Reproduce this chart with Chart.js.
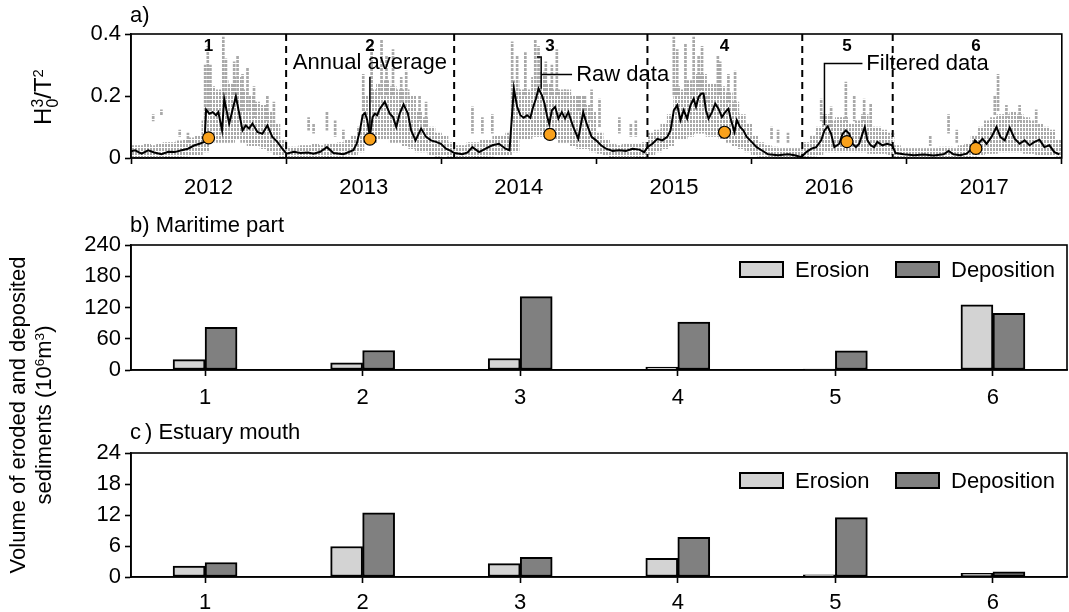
<!DOCTYPE html>
<html>
<head>
<meta charset="utf-8">
<title>Wave energy and sediment volumes</title>
<script src="https://cdn.jsdelivr.net/npm/chart.js@4.4.0/dist/chart.umd.min.js"></script>
<style>
    body { margin: 0; background: #fff; width: 1069px; height: 612px; position: relative; overflow: hidden;
           font-family: "Liberation Sans", Arial, Helvetica, sans-serif; color: #000; }
    canvas { position: absolute; left: 0; }
    .lbl { position: absolute; font-size: 22px; line-height: 1; white-space: nowrap; }
    .vt { position: absolute; transform: translate(-50%, -50%) rotate(-90deg); white-space: nowrap; line-height: 1; }
    .vt sup { font-size: 0.62em; line-height: 0; vertical-align: 0.55em; }
    .ss { display: inline-flex; flex-direction: column; font-size: 0.66em; line-height: 0.95; vertical-align: middle; }
    .sw { position: absolute; width: 41px; height: 13px; border: 2px solid #000; }
</style>
</head>
<body>
<canvas id="chartA" width="1069" height="205" style="top:0"></canvas>
<canvas id="chartB" width="1069" height="200" style="top:205px"></canvas>
<canvas id="chartC" width="1069" height="207" style="top:405px"></canvas>

<div class="lbl" style="left:130px;top:4px">a)</div>
<div class="lbl" style="left:130px;top:214px">b) Maritime part</div>
<div class="lbl" style="left:130px;top:421px">c<span style="margin-left:4px">)</span> Estuary mouth</div>
<div class="vt" style="left:45px;top:97px;font-size:24px">H<span class="ss"><span>3</span><span>0</span></span>/T<sup>2</sup></div>
<div class="vt" style="left:31px;top:415px;font-size:22px;line-height:26px;text-align:center">Volume of eroded and deposited<br>sediments (10<sup>6</sup>m<sup>3</sup>)</div>

<div class="sw" style="left:739px;top:261px;background:#d3d3d3"></div>
<div class="lbl" style="left:795px;top:259px">Erosion</div>
<div class="sw" style="left:895px;top:261px;background:#808080"></div>
<div class="lbl" style="left:951px;top:259px">Deposition</div>
<div class="sw" style="left:739px;top:472px;background:#d3d3d3"></div>
<div class="lbl" style="left:795px;top:470px">Erosion</div>
<div class="sw" style="left:895px;top:472px;background:#808080"></div>
<div class="lbl" style="left:951px;top:470px">Deposition</div>

<script>
// ---- panel a: wave energy proxy H0^3/T^2 ----
const yearTicks = [2012, 2013, 2014, 2015, 2016, 2017];
const energyTicks = [0, 0.2, 0.4];
const periodBounds = [2012.5, 2013.583, 2014.829, 2015.827, 2016.41];
const periodLabels = ['1', '2', '3', '4', '5', '6'];
const avgTime = [2012.0, 2013.04, 2014.2, 2015.326, 2016.115, 2016.946];
const avgValue = [0.065, 0.061, 0.076, 0.083, 0.053, 0.031];

// filtered series, [decimal year, value]
const filtered = [
    [2011.50,0.022],[2011.526,0.025],[2011.568,0.014],[2011.611,0.025],[2011.65,0.018],[2011.696,0.012],
    [2011.74,0.020],[2011.782,0.019],[2011.82,0.024],[2011.867,0.030],[2011.910,0.041],[2011.942,0.046],
    [2011.974,0.052],[2011.984,0.156],[2012.005,0.143],[2012.027,0.148],[2012.048,0.138],[2012.063,0.148],
    [2012.087,0.089],[2012.101,0.191],[2012.133,0.111],[2012.176,0.199],[2012.219,0.089],[2012.240,0.105],
    [2012.261,0.095],[2012.283,0.111],[2012.315,0.084],[2012.347,0.078],[2012.379,0.105],[2012.411,0.068],
    [2012.443,0.052],[2012.475,0.030],[2012.502,0.014],[2012.55,0.020],[2012.592,0.016],[2012.64,0.018],
    [2012.677,0.014],[2012.72,0.020],[2012.763,0.035],[2012.805,0.016],[2012.869,0.012],[2012.933,0.025],
    [2012.955,0.046],[2012.976,0.089],[2012.993,0.138],[2013.008,0.145],[2013.023,0.122],[2013.040,0.068],
    [2013.057,0.132],[2013.072,0.143],[2013.087,0.138],[2013.104,0.159],[2013.136,0.181],[2013.168,0.143],
    [2013.189,0.132],[2013.210,0.100],[2013.232,0.143],[2013.257,0.173],[2013.285,0.143],[2013.306,0.089],
    [2013.334,0.057],[2013.370,0.095],[2013.402,0.068],[2013.434,0.057],[2013.466,0.052],[2013.498,0.046],
    [2013.530,0.030],[2013.562,0.023],[2013.584,0.016],[2013.637,0.012],[2013.67,0.018],[2013.701,0.035],
    [2013.744,0.019],[2013.786,0.030],[2013.829,0.041],[2013.872,0.046],[2013.914,0.030],[2013.940,0.025],
    [2013.968,0.224],[2013.989,0.165],[2014.010,0.138],[2014.032,0.130],[2014.053,0.138],[2014.074,0.130],
    [2014.089,0.159],[2014.110,0.191],[2014.127,0.224],[2014.149,0.202],[2014.166,0.175],[2014.181,0.138],
    [2014.196,0.109],[2014.213,0.154],[2014.234,0.165],[2014.255,0.127],[2014.277,0.148],[2014.298,0.127],
    [2014.319,0.148],[2014.351,0.100],[2014.383,0.062],[2014.415,0.148],[2014.437,0.111],[2014.469,0.068],
    [2014.498,0.057],[2014.530,0.041],[2014.562,0.030],[2014.605,0.023],[2014.648,0.025],[2014.690,0.023],
    [2014.733,0.030],[2014.776,0.027],[2014.808,0.019],[2014.829,0.035],[2014.861,0.046],[2014.893,0.062],
    [2014.925,0.057],[2014.957,0.068],[2014.978,0.089],[2014.999,0.154],[2015.021,0.170],[2015.042,0.122],
    [2015.063,0.154],[2015.085,0.127],[2015.106,0.170],[2015.127,0.191],[2015.142,0.165],[2015.159,0.197],
    [2015.177,0.208],[2015.191,0.208],[2015.206,0.154],[2015.223,0.127],[2015.245,0.148],[2015.266,0.175],
    [2015.287,0.159],[2015.309,0.132],[2015.330,0.148],[2015.351,0.159],[2015.368,0.122],[2015.390,0.084],
    [2015.405,0.122],[2015.426,0.100],[2015.447,0.089],[2015.469,0.068],[2015.501,0.052],[2015.533,0.035],
    [2015.565,0.025],[2015.607,0.012],[2015.671,0.009],[2015.735,0.012],[2015.778,0.009],[2015.821,0.003],
    [2015.853,0.019],[2015.885,0.030],[2015.917,0.035],[2015.949,0.057],[2015.970,0.089],[2015.991,0.102],
    [2016.013,0.078],[2016.034,0.035],[2016.066,0.046],[2016.087,0.078],[2016.108,0.089],[2016.130,0.078],
    [2016.151,0.046],[2016.173,0.035],[2016.194,0.046],[2016.215,0.078],[2016.230,0.100],[2016.247,0.057],
    [2016.268,0.041],[2016.290,0.035],[2016.311,0.052],[2016.343,0.041],[2016.375,0.046],[2016.407,0.041],
    [2016.428,0.016],[2016.481,0.012],[2016.546,0.009],[2016.610,0.011],[2016.674,0.008],[2016.738,0.012],
    [2016.770,0.023],[2016.802,0.012],[2016.844,0.009],[2016.887,0.014],[2016.919,0.030],[2016.940,0.057],
    [2016.961,0.046],[2016.989,0.062],[2017.015,0.046],[2017.047,0.068],[2017.079,0.100],[2017.104,0.068],
    [2017.132,0.057],[2017.164,0.098],[2017.196,0.062],[2017.228,0.046],[2017.260,0.057],[2017.292,0.041],
    [2017.324,0.052],[2017.356,0.059],[2017.388,0.035],[2017.420,0.041],[2017.452,0.019],[2017.484,0.012]
];

// raw data spread, half-month bins starting July 2011 (one row per Jul-Jun year)
const rawLow = [
    .003,.003,.003,.003,.003,.004,.005,.005,.006,.008,.010,.020, .060,.050,.050,.050,.060,.050,.040,.040,.030,.020,.010,.005,
    .003,.003,.003,.003,.003,.003,.004,.005,.005,.006,.010,.020, .050,.050,.060,.060,.050,.050,.040,.030,.020,.020,.010,.005,
    .010,.005,.003,.003,.003,.004,.005,.006,.008,.010,.010,.020, .060,.060,.070,.070,.060,.060,.050,.050,.040,.030,.030,.020,
    .015,.008,.004,.003,.003,.003,.004,.005,.010,.020,.030,.040, .060,.060,.070,.080,.080,.070,.070,.060,.050,.040,.030,.020,
    .008,.005,.003,.003,.002,.002,.002,.002,.004,.006,.010,.020, .020,.020,.020,.020,.020,.020,.015,.015,.015,.010,.004,.003,
    .002,.002,.002,.002,.002,.002,.002,.002,.003,.004,.006,.010, .015,.015,.020,.020,.020,.020,.015,.015,.010,.010,.010,.005
];
const rawHigh = [
    .040,.040,.045,.040,.045,.050,.050,.055,.060,.065,.070,.120, .230,.220,.250,.240,.260,.220,.200,.180,.170,.150,.110,.060,
    .035,.035,.040,.040,.045,.040,.045,.045,.050,.060,.070,.100, .200,.220,.240,.250,.230,.220,.220,.200,.150,.130,.100,.080,
    .070,.050,.040,.040,.050,.050,.060,.060,.070,.070,.080,.250, .220,.220,.260,.280,.240,.220,.220,.220,.200,.200,.170,.150,
    .080,.060,.045,.040,.045,.045,.045,.050,.080,.090,.110,.140, .230,.220,.250,.270,.270,.240,.240,.230,.210,.180,.140,.110,
    .070,.050,.040,.035,.030,.030,.030,.030,.050,.070,.100,.140, .120,.130,.130,.110,.120,.140,.100,.100,.090,.080,.040,.030,
    .030,.030,.030,.030,.030,.035,.035,.030,.040,.045,.070,.100, .120,.130,.140,.140,.150,.140,.130,.120,.110,.100,.090,.060
];
// isolated raw peaks, [decimal year, from, to]
const rawSpikes = [
    [2011.643,0.12,0.14],[2011.696,0.14,0.155],[2011.814,0.07,0.09],[2011.867,0.05,0.08],
    [2011.978,0.12,0.30],[2011.995,0.15,0.36],[2012.012,0.15,0.30],[2012.095,0.18,0.39],[2012.112,0.20,0.32],
    [2012.165,0.20,0.31],[2012.187,0.20,0.33],[2012.219,0.15,0.27],[2012.251,0.15,0.29],[2012.293,0.13,0.23],
    [2012.379,0.12,0.20],[2012.421,0.10,0.18],[2012.645,0.09,0.13],[2012.677,0.08,0.11],[2012.763,0.09,0.15],
    [2012.816,0.07,0.12],[2012.869,0.06,0.09],[2012.997,0.15,0.27],[2013.051,0.18,0.37],[2013.115,0.20,0.38],
    [2013.147,0.20,0.33],[2013.189,0.20,0.35],[2013.242,0.18,0.26],[2013.274,0.18,0.28],[2013.360,0.12,0.20],
    [2013.402,0.10,0.18],[2013.701,0.08,0.165],[2013.765,0.08,0.13],[2013.829,0.08,0.14],[2013.957,0.12,0.375],
    [2013.989,0.20,0.33],[2014.042,0.20,0.34],[2014.106,0.22,0.38],[2014.127,0.22,0.36],[2014.174,0.20,0.31],
    [2014.213,0.20,0.30],[2014.245,0.20,0.35],[2014.298,0.18,0.22],[2014.383,0.15,0.20],[2014.426,0.15,0.20],
    [2014.469,0.12,0.22],[2014.520,0.10,0.19],[2014.648,0.08,0.13],[2014.722,0.07,0.11],[2014.754,0.07,0.12],
    [2014.999,0.20,0.39],[2015.021,0.20,0.35],[2015.074,0.20,0.37],[2015.127,0.20,0.39],[2015.159,0.22,0.33],
    [2015.181,0.22,0.36],[2015.223,0.18,0.20],[2015.283,0.20,0.33],[2015.298,0.20,0.31],[2015.351,0.18,0.27],
    [2015.394,0.15,0.28],[2015.629,0.06,0.10],[2015.671,0.05,0.09],[2015.735,0.05,0.08],[2015.949,0.12,0.19],
    [2016.013,0.10,0.165],[2016.108,0.12,0.245],[2016.162,0.12,0.20],[2016.226,0.12,0.19],[2016.268,0.10,0.175],
    [2016.652,0.04,0.07],[2016.770,0.08,0.14],[2016.823,0.05,0.09],[2017.068,0.14,0.20],[2017.089,0.15,0.27],
    [2017.143,0.13,0.17],[2017.228,0.12,0.17],[2017.335,0.10,0.155]
];

// ---- panels b and c: eroded / deposited volumes per period ----
const periods = [1, 2, 3, 4, 5, 6];
const maritimeErosion = [20, 14, 22, 5.5, 2, 125];
const maritimeDeposition = [82, 37.5, 141, 92, 37, 109];
const maritimeTicks = [0, 60, 120, 180, 240];
const estuaryErosion = [2.1, 5.9, 2.6, 3.6, 0.4, 0.7];
const estuaryDeposition = [2.8, 12.4, 3.8, 7.7, 11.5, 1.0];
const estuaryTicks = [0, 6, 12, 18, 24];

const FONT = '"Liberation Sans", Arial, Helvetica, sans-serif';
Chart.defaults.font.family = FONT;
Chart.defaults.font.size = 22;
Chart.defaults.color = '#000';

const AX = { color: '#000', width: 1.6 };
const TICKMARKS = { drawOnChartArea: false, tickLength: 6, tickColor: '#000', tickWidth: 1.6 };

// grey dotted streak texture so the raw record reads as dense points
function dotPattern(w, h, dw, dh) {
    const c = document.createElement('canvas');
    c.width = w; c.height = h;
    const g = c.getContext('2d');
    g.fillStyle = '#a9a9a9';
    g.fillRect(0, 0, dw, dh);
    return g.createPattern(c, 'repeat');
}
const rawFill = dotPattern(3, 4, 2, 3);
const spikeFill = dotPattern(2, 4, 2, 3);

const framePlugin = {
    id: 'frame',
    afterDraw(chart) {
        const { ctx, chartArea: a } = chart;
        ctx.save();
        ctx.strokeStyle = '#000';
        ctx.lineWidth = 1.6;
        ctx.strokeRect(a.left, a.top, a.right - a.left, a.bottom - a.top);
        ctx.restore();
    }
};

// dashed period limits, period numbers and the three callouts
const notesPlugin = {
    id: 'notes',
    afterDatasetsDraw(chart) {
        const { ctx, chartArea: a, scales: { x, y } } = chart;
        const px = t => x.getPixelForValue(t);
        const py = v => y.getPixelForValue(v);
        ctx.save();
        ctx.strokeStyle = '#000';
        ctx.lineWidth = 2;
        ctx.setLineDash([7, 5]);
        periodBounds.forEach(t => {
            ctx.beginPath();
            ctx.moveTo(px(t), a.top);
            ctx.lineTo(px(t), a.bottom);
            ctx.stroke();
        });
        ctx.setLineDash([]);

        ctx.fillStyle = '#000';
        ctx.textBaseline = 'middle';
        ctx.textAlign = 'center';
        ctx.font = 'bold 17px ' + FONT;
        periodLabels.forEach((l, i) => ctx.fillText(l, px(avgTime[i]), a.top + 12));

        ctx.lineWidth = 1.5;
        ctx.font = '22px ' + FONT;
        // annual average
        ctx.beginPath();
        ctx.moveTo(px(2013.04), py(0.262));
        ctx.lineTo(px(2013.04), py(0.080));
        ctx.stroke();
        ctx.fillText('Annual average', px(2013.04), py(0.306));
        // raw data
        ctx.beginPath();
        ctx.moveTo(px(2014.117), py(0.326));
        ctx.lineTo(px(2014.144), py(0.326));
        ctx.lineTo(px(2014.144), py(0.223));
        ctx.moveTo(px(2014.144), py(0.269));
        ctx.lineTo(px(2014.343), py(0.269));
        ctx.stroke();
        ctx.textAlign = 'left';
        ctx.fillText('Raw data', px(2014.37), py(0.269));
        // filtered data
        ctx.beginPath();
        ctx.moveTo(px(2015.97), py(0.106));
        ctx.lineTo(px(2015.97), py(0.305));
        ctx.lineTo(px(2016.215), py(0.305));
        ctx.stroke();
        ctx.fillText('Filtered data', px(2016.24), py(0.305));
        ctx.restore();
    }
};

new Chart(document.getElementById('chartA'), {
    type: 'line',
    data: {
        datasets: [
            {
                type: 'scatter',
                label: 'Annual average',
                data: avgTime.map((t, i) => ({ x: t, y: avgValue[i] })),
                pointRadius: 6,
                pointBackgroundColor: '#f9a11b',
                pointBorderColor: '#000',
                pointBorderWidth: 1.2,
                order: 1
            },
            {
                type: 'line',
                label: 'Filtered data',
                data: filtered.map(([t, v]) => ({ x: t, y: v })),
                borderColor: '#000',
                borderWidth: 2,
                pointRadius: 0,
                tension: 0,
                order: 2
            },
            {
                type: 'bar',
                label: 'Raw data',
                data: rawLow.map((lo, i) => ({ x: 2011.5 + (i + 0.5) / 24, y: [lo, rawHigh[i]] })),
                backgroundColor: rawFill,
                barThickness: 7,
                grouped: false,
                order: 3
            },
            {
                type: 'bar',
                label: 'Raw peaks',
                data: rawSpikes.map(([t, lo, hi]) => ({ x: t, y: [lo, hi] })),
                backgroundColor: spikeFill,
                barThickness: 2,
                grouped: false,
                order: 3
            }
        ]
    },
    options: {
        responsive: false,
        animation: false,
        layout: { padding: { top: 34, right: 2, left: 0, bottom: 0 } },
        plugins: { legend: { display: false }, tooltip: { enabled: false } },
        scales: {
            x: {
                type: 'linear', min: 2011.5, max: 2017.5, offset: false,
                afterBuildTicks: ax => { ax.ticks = yearTicks.map(v => ({ value: v })); },
                afterFit: ax => { ax.height = 47; },
                ticks: { callback: v => String(v), padding: 11, maxRotation: 0, autoSkip: false },
                grid: TICKMARKS, border: AX
            },
            y: {
                type: 'linear', min: 0, max: 0.4,
                afterBuildTicks: ax => { ax.ticks = energyTicks.map(v => ({ value: v })); },
                afterFit: ax => { ax.width = 131; },
                ticks: { callback: v => (v === 0 ? '0' : v.toFixed(1)), padding: 4, autoSkip: false },
                grid: TICKMARKS, border: AX
            }
        }
    },
    plugins: [framePlugin, notesPlugin]
});

function volumeChart(id, erosion, deposition, yTicks, padTop, labelPad) {
    return new Chart(document.getElementById(id), {
        type: 'bar',
        data: {
            datasets: [
                {
                    label: 'Erosion',
                    data: periods.map((p, i) => ({ x: p, y: erosion[i] })),
                    backgroundColor: '#d3d3d3', borderColor: '#000', borderWidth: 2,
                    borderSkipped: false, barThickness: 32
                },
                {
                    label: 'Deposition',
                    data: periods.map((p, i) => ({ x: p, y: deposition[i] })),
                    backgroundColor: '#808080', borderColor: '#000', borderWidth: 2,
                    borderSkipped: false, barThickness: 32
                }
            ]
        },
        options: {
            responsive: false,
            animation: false,
            layout: { padding: { top: padTop, right: 2, left: 0, bottom: 0 } },
            plugins: { legend: { display: false }, tooltip: { enabled: false } },
            scales: {
                x: {
                    type: 'linear', min: 0.53, max: 6.47, offset: false,
                    afterBuildTicks: ax => { ax.ticks = periods.map(v => ({ value: v })); },
                    afterFit: ax => { ax.height = 35; },
                    ticks: { callback: v => String(v), padding: labelPad, maxRotation: 0, autoSkip: false },
                    grid: Object.assign({ offset: false }, TICKMARKS), border: AX
                },
                y: {
                    type: 'linear', min: 0, max: yTicks[yTicks.length - 1],
                    afterBuildTicks: ax => { ax.ticks = yTicks.map(v => ({ value: v })); },
                    afterFit: ax => { ax.width = 131; },
                    ticks: { padding: 4, autoSkip: false },
                    grid: TICKMARKS, border: AX
                }
            }
        },
        plugins: [framePlugin]
    });
}

volumeChart('chartB', maritimeErosion, maritimeDeposition, maritimeTicks, 40, 9);
volumeChart('chartC', estuaryErosion, estuaryDeposition, estuaryTicks, 48, 7);
</script>
</body>
</html>
